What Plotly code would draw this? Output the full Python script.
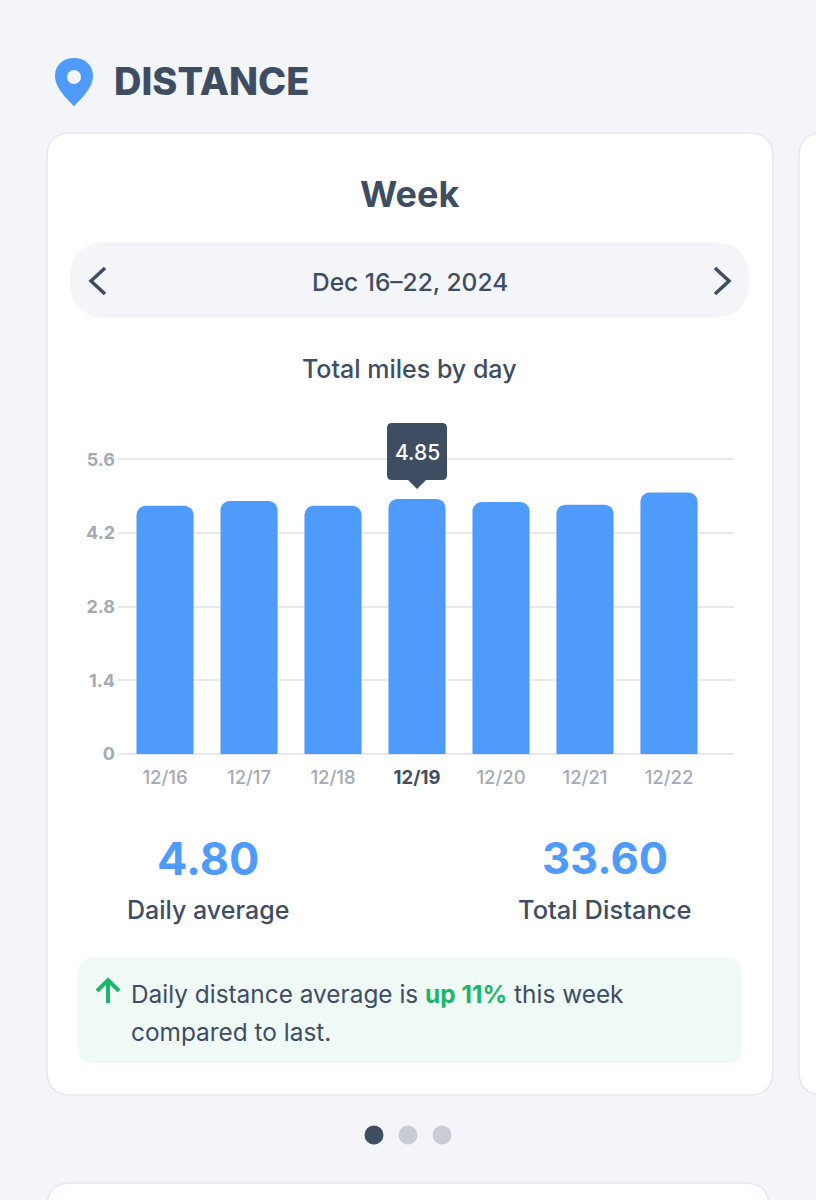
import plotly.graph_objects as go

# Chart data
days = ["12/16", "12/17", "12/18", "12/19", "12/20", "12/21", "12/22"]
miles = [4.72, 4.81, 4.72, 4.85, 4.79, 4.74, 4.97]
y_ticks = [0, 1.4, 2.8, 4.2, 5.6]
y_tick_labels = ["0", "1.4", "2.8", "4.2", "5.6"]
highlight_day = "12/19"
daily_average = "4.80"
total_distance = "33.60"

W, H = 816, 1200
BG = "#F3F5F9"
BLUE = "#4F9BFB"
INK = "#3F4D63"
MUTED = "#A5AAB5"
BORDER = "#E6E8EF"
GRID = "#E6E8ED"
GREEN = "#1DB56B"
FONT = "Inter"

# Plot box in page pixels
PLOT_L, PLOT_R = 118, 734
PLOT_TOP, PLOT_BASE = 417.4, 754


def px(x):
    return round(x / W, 5)


def py(y):
    return round(1 - y / H, 5)


def rounded_rect(x0, y0, x1, y1, r):
    return (
        f"M{px(x0 + r)},{py(y0)} L{px(x1 - r)},{py(y0)} "
        f"Q{px(x1)},{py(y0)} {px(x1)},{py(y0 + r)} "
        f"L{px(x1)},{py(y1 - r)} Q{px(x1)},{py(y1)} {px(x1 - r)},{py(y1)} "
        f"L{px(x0 + r)},{py(y1)} Q{px(x0)},{py(y1)} {px(x0)},{py(y1 - r)} "
        f"L{px(x0)},{py(y0 + r)} Q{px(x0)},{py(y0)} {px(x0 + r)},{py(y0)} Z"
    )


def page_shape(path, fill=None, line=None, width=0, layer="below"):
    return dict(
        type="path", xref="paper", yref="paper", path=path, layer=layer,
        fillcolor=fill if fill else "rgba(0,0,0,0)",
        line=dict(color=line if line else "rgba(0,0,0,0)", width=width),
    )


def polyline(points):
    return "M" + " L".join(f"{px(x)},{py(y)}" for x, y in points)


def dot(cx, cy, r, fill):
    return dict(
        type="circle", xref="paper", yref="paper", layer="below",
        x0=px(cx - r), x1=px(cx + r), y0=py(cy - r), y1=py(cy + r),
        fillcolor=fill, line=dict(width=0),
    )


def label(x, y, text, size, color=INK, weight=400, anchor="center"):
    return dict(
        xref="paper", yref="paper", x=px(x), y=py(y), text=text,
        xanchor=anchor, yanchor="middle", showarrow=False, align="left",
        font=dict(family=FONT, size=size, color=color, weight=weight),
    )


shapes = [
    # cards
    page_shape(rounded_rect(47, 133, 773, 1095, 24), "#FFFFFF", BORDER, 1.5),
    page_shape(rounded_rect(799, 133, 860, 1095, 24), "#FFFFFF", BORDER, 1.5),
    page_shape(rounded_rect(47, 1183, 769, 1260, 24), "#FFFFFF", BORDER, 1.5),
    # date selector
    page_shape(rounded_rect(70, 242, 749, 318, 38), BG),
    page_shape(polyline([(105, 268), (91, 281), (105, 294)]), None, INK, 3.5),
    page_shape(polyline([(715, 268), (729, 281), (715, 294)]), None, INK, 3.5),
    # comparison note
    page_shape(rounded_rect(78, 958, 742, 1063, 16), "#EFF9F6"),
    page_shape(polyline([(108, 1003), (108, 980)]), None, GREEN, 4),
    page_shape(polyline([(97, 991), (108, 980), (119, 991)]), None, GREEN, 4),
    # location pin
    page_shape(
        f"M{px(74)},{py(106.5)} "
        f"C{px(72)},{py(103)} {px(55)},{py(90)} {px(55)},{py(76)} "
        f"C{px(55)},{py(65)} {px(63)},{py(58)} {px(74)},{py(58)} "
        f"C{px(85)},{py(58)} {px(93)},{py(65)} {px(93)},{py(76)} "
        f"C{px(93)},{py(90)} {px(76)},{py(103)} {px(74)},{py(106.5)} Z",
        BLUE,
    ),
    dot(74, 77, 7, BG),
    # pager
    dot(374, 1135, 9.5, INK),
    dot(408, 1135, 9.5, "#C8CCD4"),
    dot(442, 1135, 9.5, "#C8CCD4"),
]

# Value callout, anchored to the highlighted bar
highlight_value = miles[days.index(highlight_day)]
shapes.append(dict(
    type="path", layer="above",
    xref="x", yref="y", xsizemode="pixel", ysizemode="pixel",
    xanchor=highlight_day, yanchor=highlight_value,
    path=(
        "M0,10 L-9,19 L-25,19 Q-30,19 -30,24 L-30,71 Q-30,76 -25,76 "
        "L25,76 Q30,76 30,71 L30,24 Q30,19 25,19 L9,19 Z"
    ),
    fillcolor=INK, line=dict(width=0),
))

annotations = [
    label(112, 81, "DISTANCE", 38, INK, 800, "left"),
    label(410, 194, "Week", 36, INK, 700),
    label(410, 282, "Dec 16–22, 2024", 24.5, INK, 500),
    label(410, 369, "Total miles by day", 25, INK, 500),
    label(208, 858, daily_average, 45, BLUE, 700),
    label(208, 910, "Daily average", 25, INK, 500),
    label(605, 858, total_distance, 43.5, BLUE, 700),
    label(605, 910, "Total Distance", 25.5, INK, 500),
    label(
        129.5, 994,
        f'Daily distance average is <span style="color:{GREEN}"><b>up 11%</b></span> this week',
        24.4, INK, 400, "left",
    ),
    label(129.5, 1032, "compared to last.", 24.4, INK, 400, "left"),
    dict(
        xref="x", yref="y", x=highlight_day, y=highlight_value, yshift=46,
        text=f"{highlight_value:.2f}", showarrow=False,
        xanchor="center", yanchor="middle",
        font=dict(family=FONT, size=21, color="#FFFFFF", weight=500),
    ),
]

x_tick_text = [
    f'<span style="color:{INK}"><b>{d}</b></span>' if d == highlight_day else d
    for d in days
]

fig = go.Figure(
    go.Bar(x=days, y=miles, marker=dict(color=BLUE, line=dict(width=0)), hoverinfo="skip")
)

fig.update_layout(
    width=W, height=H,
    margin=dict(l=0, r=0, t=0, b=0, autoexpand=False),
    paper_bgcolor=BG, plot_bgcolor="rgba(0,0,0,0)",
    showlegend=False, bargap=0.32, barcornerradius=9,
    shapes=shapes, annotations=annotations,
    font=dict(family=FONT),
    xaxis=dict(
        domain=[PLOT_L / W, PLOT_R / W],
        type="category", categoryorder="array", categoryarray=days,
        range=[-0.56, 6.774],
        tickmode="array", tickvals=days, ticktext=x_tick_text,
        showgrid=False, zeroline=False, showline=False, ticks="",
        ticklabelstandoff=10,
        tickfont=dict(family=FONT, size=18.5, color=MUTED, weight=500),
    ),
    yaxis=dict(
        domain=[1 - PLOT_BASE / H, 1 - PLOT_TOP / H],
        range=[0, 6.4],
        tickmode="array", tickvals=y_ticks, ticktext=y_tick_labels,
        showgrid=True, gridcolor=GRID, gridwidth=1.5,
        zeroline=True, zerolinecolor=GRID, zerolinewidth=2,
        showline=False, ticks="", ticklabelstandoff=2,
        tickfont=dict(family=FONT, size=18, color=MUTED, weight=700),
    ),
)

fig.write_html("out.html", config=dict(displayModeBar=False))
